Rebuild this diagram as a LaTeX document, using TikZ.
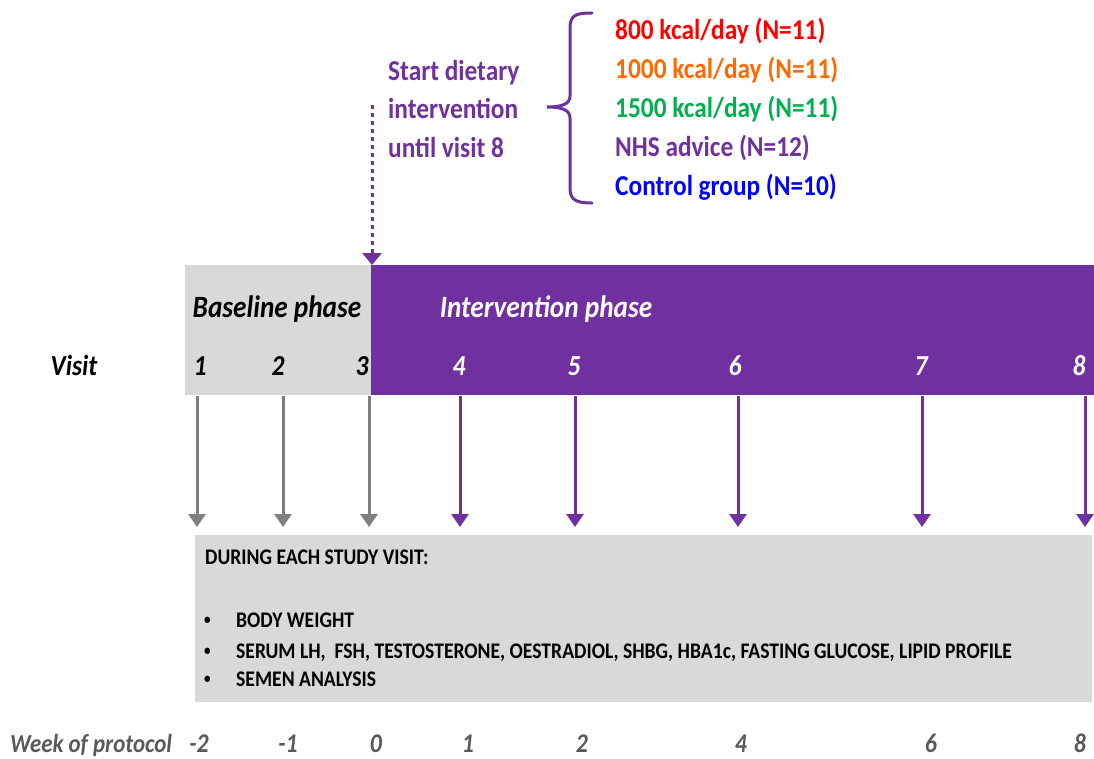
\documentclass[tikz,border=0pt]{standalone}
\usepackage{fontspec}
\setmainfont{Carlito}[FakeStretch=0.88]
\usetikzlibrary{arrows.meta}
\definecolor{studypurple}{HTML}{7030A0}
\definecolor{panelgray}{HTML}{D9D9D9}
\definecolor{arrowgray}{HTML}{7F7F7F}
\definecolor{weekgray}{HTML}{595959}
\definecolor{grpred}{HTML}{FF0000}
\definecolor{grporange}{HTML}{FF6A00}
\definecolor{grpgreen}{HTML}{00B050}
\definecolor{grpblue}{HTML}{0000FF}
\tikzset{
  grp/.style={inner sep=0pt, anchor=base west, font=\bfseries\fontsize{28.8}{34}\selectfont},
  phase/.style={inner sep=0pt, anchor=base, font=\bfseries\itshape\fontsize{31}{36}\selectfont},
  visitnum/.style={inner sep=0pt, anchor=base, font=\bfseries\itshape\fontsize{29}{34}\selectfont},
  weeknum/.style={inner sep=0pt, anchor=base, text=weekgray, font=\bfseries\itshape\fontsize{27}{32}\selectfont},
  boxtext/.style={inner sep=0pt, anchor=base west, font=\bfseries\fontsize{22.3}{26}\selectfont},
  bulletmark/.style={inner sep=0pt, anchor=base west, font=\bfseries\fontsize{15}{18}\selectfont},
  visitarrow/.style={line width=3pt, -{Triangle[width=17pt,length=13pt]}},
}
\begin{document}
\begin{tikzpicture}[x=1pt,y=-1pt]
\useasboundingbox (0,0) rectangle (1094,758);

% phase bars
\fill[panelgray] (185,265) rectangle (371,395);
\fill[studypurple] (371,265) rectangle (1094,395);
\node[phase] (basephase) at (277,317) {Baseline phase};
\node[phase, text=white] (intphase) at (546,317) {Intervention phase};

% visit row
\node[visitnum] (visit) at (74,375) {Visit};
\foreach \n/\x in {1/200,2/278,3/362}
  \node[visitnum] (v\n) at (\x,375) {\n};
\foreach \n/\x in {4/459,5/574,6/735,7/921,8/1079}
  \node[visitnum, text=white] (v\n) at (\x,375) {\n};

% arrows from the bar down to the panel
\foreach \n/\x in {1/197,2/283,3/369,4/460,5/575,6/738,7/922,8/1085} {
  \coordinate (a\n) at (\x,396);
  \coordinate (b\n) at (\x,527);
}
\foreach \n in {1,2,3}
  \draw[visitarrow, arrowgray] (a\n) -- (b\n);
\foreach \n in {4,5,6,7,8}
  \draw[visitarrow, studypurple] (a\n) -- (b\n);

% start of the dietary intervention
\node[grp, text=studypurple] (start1) at (388,80) {Start dietary};
\node[grp, text=studypurple] (start2) at (388,118) {intervention};
\node[grp, text=studypurple] (start3) at (388,157) {until visit 8};
\coordinate (dotTop) at (372,105);
\coordinate (dotEnd) at (372,265);
\draw[studypurple, line width=3pt, dash pattern=on 4pt off 4pt,
      -{Triangle[width=19pt,length=12pt]}] (dotTop) -- (dotEnd);

% brace grouping the arms
\draw[studypurple, line width=3pt, line cap=round]
  (592,13) .. controls (576,13) and (570,15) .. (570,28) -- (570,96)
  .. controls (570,104) and (562,107) .. (547,107)
  .. controls (562,107) and (570,110) .. (570,118) -- (570,188)
  .. controls (570,200) and (576,203) .. (592,203);

% study arms
\node[grp, text=grpred] (g1) at (615,39) {800 kcal/day (N=11)};
\node[grp, text=grporange] (g2) at (615,78) {1000 kcal/day (N=11)};
\node[grp, text=grpgreen] (g3) at (615,117) {1500 kcal/day (N=11)};
\node[grp, text=studypurple] (g4) at (615,156) {NHS advice (N=12)};
\node[grp, text=grpblue] (g5) at (615,195) {Control group (N=10)};

% panel listing the measurements
\fill[panelgray] (195,535) rectangle (1092,702);
\node[boxtext] (during) at (205,564) {DURING EACH STUDY VISIT:};
\foreach \y/\t [count=\i] in {627/BODY WEIGHT,
    658/{SERUM LH,\ \ FSH, TESTOSTERONE, OESTRADIOL, SHBG, HBA1c, FASTING GLUCOSE, LIPID PROFILE},
    686/SEMEN ANALYSIS} {
  \node[bulletmark] (bul\i) at (204,\y-3) {\textbullet};
  \node[boxtext] (item\i) at (236,\y) {\t};
}

% week of protocol row
\node[inner sep=0pt, anchor=base west, text=weekgray,
      font=\bfseries\itshape\fontsize{26}{30}\selectfont] (week) at (10,752) {Week of protocol};
\foreach \n/\w/\x in {1/-2/199,2/-1/288,3/0/376,4/1/468,5/2/582,6/4/741,7/6/931,8/8/1080}
  \node[weeknum] (w\n) at (\x,752) {\w};
\end{tikzpicture}
\end{document}
